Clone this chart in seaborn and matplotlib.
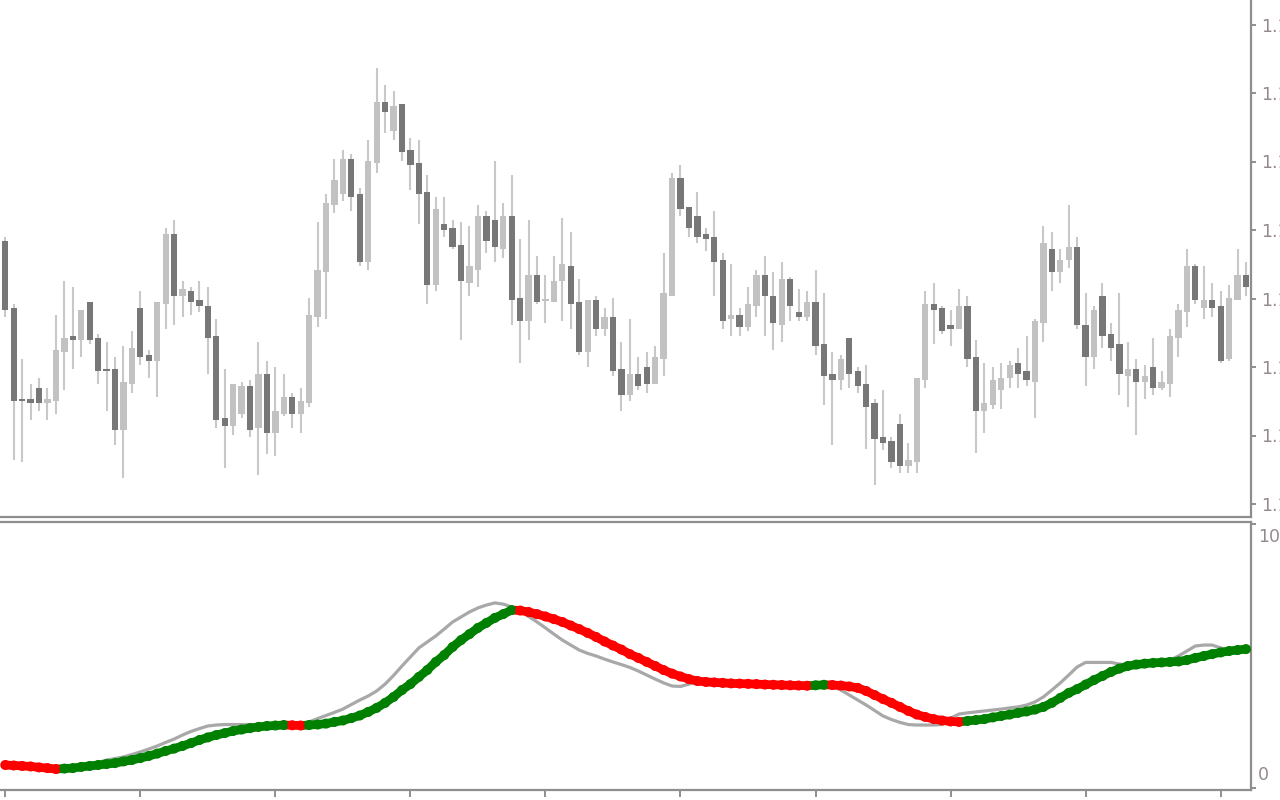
import numpy as np
import seaborn as sns
from matplotlib import pyplot as plt
from matplotlib.collections import LineCollection

# candle prices, in points above 1.1000 (68.5 points = 20 pips)
open_pts = [263, 196, 105, 105, 116, 101, 103, 152, 168, 164,
            202, 166, 135, 135, 74, 120, 196, 149, 143, 200,
            270, 208, 213, 204, 198, 168, 86, 78, 90, 118,
            76, 130, 71, 90, 107, 90, 101, 187, 232, 299,
            310, 345, 310, 242, 341, 402, 373, 400, 354, 341,
            312, 219, 280, 276, 259, 221, 234, 288, 284, 255,
            288, 206, 183, 229, 203, 202, 223, 238, 202, 152,
            204, 175, 187, 135, 109, 130, 137, 120, 145, 208,
            326, 297, 288, 270, 267, 244, 185, 189, 177, 198,
            229, 208, 179, 225, 192, 187, 202, 160, 130, 124,
            166, 133, 120, 101, 67, 63, 80, 38, 42, 124,
            200, 196, 179, 175, 198, 147, 93, 99, 114, 126,
            141, 133, 122, 181, 255, 232, 244, 257, 179, 147,
            208, 170, 160, 128, 135, 122, 137, 116, 120, 166,
            192, 238, 196, 204, 198, 145, 204, 229]
high_pts = [267, 200, 145, 120, 126, 116, 189, 223, 217, 194,
            202, 170, 162, 147, 158, 173, 213, 154, 202, 276,
            284, 223, 217, 223, 217, 185, 135, 120, 122, 124,
            162, 143, 137, 130, 111, 116, 206, 282, 310, 345,
            354, 350, 316, 364, 436, 419, 413, 400, 366, 364,
            329, 307, 307, 284, 282, 278, 299, 293, 343, 301,
            329, 265, 284, 248, 229, 248, 286, 272, 225, 204,
            208, 196, 206, 162, 185, 147, 152, 158, 251, 331,
            339, 297, 312, 276, 293, 251, 240, 196, 217, 234,
            248, 232, 242, 227, 215, 213, 234, 211, 152, 149,
            166, 137, 139, 105, 114, 67, 90, 61, 126, 213,
            221, 198, 194, 215, 208, 164, 141, 137, 141, 143,
            156, 168, 185, 278, 272, 255, 299, 267, 211, 198,
            221, 181, 211, 162, 145, 139, 166, 133, 175, 200,
            255, 240, 238, 221, 213, 219, 255, 242]
low_pts = [187, 44, 42, 84, 93, 84, 90, 114, 135, 147,
           160, 120, 93, 59, 26, 111, 139, 126, 107, 175,
           179, 187, 189, 192, 130, 76, 36, 69, 86, 67,
           29, 50, 48, 88, 76, 71, 97, 177, 185, 291,
           303, 293, 238, 234, 331, 371, 364, 343, 314, 280,
           200, 213, 267, 255, 164, 208, 217, 251, 242, 246,
           179, 141, 164, 200, 181, 202, 183, 175, 149, 137,
           168, 168, 128, 93, 103, 114, 111, 120, 128, 208,
           288, 267, 261, 253, 208, 175, 168, 168, 173, 187,
           168, 154, 162, 183, 183, 183, 149, 99, 59, 114,
           116, 111, 55, 19, 54, 36, 31, 31, 31, 116,
           160, 170, 158, 175, 137, 51, 71, 95, 95, 116,
           116, 118, 86, 162, 213, 221, 236, 175, 118, 135,
           156, 143, 109, 97, 69, 105, 109, 114, 107, 147,
           177, 200, 185, 187, 141, 143, 204, 208]
close_pts = [194, 103, 103, 101, 101, 105, 154, 166, 164, 194,
             164, 133, 133, 74, 122, 156, 147, 143, 202, 270,
             208, 215, 202, 198, 166, 84, 78, 120, 118, 74,
             130, 71, 93, 107, 90, 103, 189, 234, 301, 324,
             345, 307, 242, 343, 402, 392, 398, 352, 339, 310,
             219, 295, 274, 257, 223, 238, 288, 263, 257, 288,
             204, 183, 229, 202, 204, 223, 240, 200, 152, 204,
             175, 187, 133, 109, 130, 118, 120, 147, 211, 326,
             295, 276, 267, 265, 242, 183, 189, 177, 200, 229,
             208, 181, 225, 198, 187, 202, 158, 128, 124, 145,
             130, 118, 97, 65, 61, 42, 38, 44, 126, 200,
             194, 173, 175, 198, 145, 93, 101, 124, 126, 139,
             130, 124, 183, 261, 232, 244, 257, 179, 147, 194,
             168, 156, 130, 135, 122, 128, 116, 122, 168, 194,
             238, 204, 204, 196, 143, 206, 229, 217]

# oscillator window (0..100)
signal = [4.2, 4.0, 3.8, 3.6, 3.2, 2.9, 2.5, 2.7, 2.9, 3.4,
          3.8, 4.2, 4.6, 5.0, 5.7, 6.3, 7.1, 8.0, 9.0, 10.1,
          11.1, 12.2, 13.4, 14.7, 15.8, 16.8, 17.6, 18.5, 19.1, 19.7,
          20.2, 20.6, 20.8, 21.0, 20.9, 20.8, 21.0, 21.2, 21.6, 22.3,
          22.9, 23.9, 25.0, 26.5, 28.2, 30.3, 32.8, 35.7, 38.2, 41.2,
          44.1, 47.5, 50.4, 53.8, 56.7, 59.2, 61.8, 63.9, 66.0, 67.6,
          69.3, 69.1, 68.5, 67.6, 66.6, 65.5, 64.3, 62.8, 61.3, 59.7,
          58.0, 56.1, 54.4, 52.7, 50.8, 49.2, 47.5, 45.8, 44.1, 42.6,
          41.4, 40.3, 39.5, 39.1, 38.9, 38.7, 38.5, 38.4, 38.3, 38.2,
          38.0, 37.9, 37.8, 37.7, 37.6, 37.5, 37.7, 37.9, 37.8, 37.6,
          37.2, 36.6, 35.3, 33.6, 31.9, 30.3, 28.6, 26.9, 25.4, 24.4,
          23.5, 22.9, 22.5, 22.3, 22.7, 23.1, 23.5, 24.2, 24.8, 25.4,
          26.1, 26.7, 27.5, 28.6, 30.3, 32.4, 34.5, 36.1, 38.0, 39.9,
          41.6, 43.3, 44.7, 45.8, 46.4, 46.8, 47.1, 47.3, 47.5, 47.7,
          48.3, 49.2, 50.0, 50.8, 51.5, 52.1, 52.5, 52.9]
raw = [4.2, 3.8, 3.6, 3.2, 2.9, 2.7, 2.5, 2.9, 3.4, 3.8,
       4.4, 5.3, 6.3, 6.9, 7.6, 8.6, 9.7, 10.9, 12.2, 13.7,
       15.1, 16.8, 18.3, 19.5, 20.6, 21.0, 21.2, 21.2, 21.2, 21.2,
       21.2, 21.2, 21.0, 20.8, 20.8, 21.4, 22.3, 23.7, 25.0, 26.3,
       27.7, 29.6, 31.5, 33.2, 35.3, 38.2, 41.8, 45.8, 49.6, 53.4,
       55.9, 58.4, 61.3, 64.3, 66.4, 68.5, 70.2, 71.4, 72.3, 71.8,
       70.6, 68.9, 66.6, 64.3, 61.8, 59.2, 56.7, 54.6, 52.5, 51.1,
       50.0, 48.7, 47.5, 46.4, 45.2, 43.7, 42.0, 40.3, 38.7, 37.4,
       37.2, 38.2, 39.1, 39.1, 38.9, 38.7, 38.4, 38.4, 38.2, 38.2,
       38.0, 38.0, 38.0, 37.8, 37.8, 37.8, 37.8, 37.8, 37.4, 35.7,
       33.6, 31.5, 29.4, 27.1, 24.8, 23.3, 22.1, 21.2, 21.0, 21.0,
       21.0, 21.2, 23.9, 25.6, 26.1, 26.5, 26.9, 27.3, 27.7, 28.2,
       28.6, 29.4, 30.7, 32.8, 35.7, 38.7, 42.0, 45.4, 47.3, 47.3,
       47.3, 47.3, 46.6, 46.2, 46.4, 46.8, 47.1, 47.5, 48.3, 50.0,
       52.1, 54.2, 54.6, 54.6, 53.4, 52.5, 52.5, 52.5]

price_ticks = [1.1000, 1.1020, 1.1040, 1.1060, 1.1080, 1.1100, 1.1120, 1.1140]
price_labels = ['1.1000', '1.1020', '1.1040', '1.1060', '1.1080', '1.1100', '1.1120', '1.1140']
time_labels = ['17 Feb 2021', '19 Feb 20:00', '24 Feb 04:00', '26 Feb 12:00', '2 Mar 20:00',
               '5 Mar 04:00', '9 Mar 12:00', '11 Mar 20:00', '16 Mar 04:00', '18 Mar 12:00']

BASE = 1.1000
PT = 0.0020 / 68.5
LIGHT, DARK, WICK = '#c2c2c2', '#777777', '#c8c8c8'
AXC = '#8e8e8e'
TXT = '#948a8c'

sns.set_style('white')
plt.rcParams['font.family'] = ['DejaVu Sans']

o = BASE + np.array(open_pts) * PT
h = BASE + np.array(high_pts) * PT
l = BASE + np.array(low_pts) * PT
c = BASE + np.array(close_pts) * PT
bars = np.arange(len(o))
up = c >= o

W, H = 1280, 800
fig = plt.figure(figsize=(12.8, 8), dpi=100)
ax1 = fig.add_axes([0, 1 - 517 / H, 1251 / W, 517 / H])
ax2 = fig.add_axes([0, 1 - 790 / H, 1251 / W, (790 - 522) / H])

# candles
ax1.vlines(bars, l, h, color=WICK, lw=1.5, zorder=1)
body_lo = np.minimum(o, c)
body_h = np.maximum(np.abs(c - o), 1.5 * PT)
ax1.bar(bars, body_h, bottom=body_lo, width=0.74,
        color=np.where(up, LIGHT, DARK), linewidth=0, zorder=2)

xlim = (-5.3 / 8.44, (1251 - 5.3) / 8.44)
ax1.set_xlim(*xlim)
ax1.set_ylim(BASE - 13 * PT, BASE + 504 * PT)
ax1.yaxis.tick_right()
ax1.set_yticks(price_ticks)
ax1.set_yticklabels(price_labels)
ax1.tick_params(axis='y', right=True, length=3.6, width=1.4, color=AXC,
                labelcolor=TXT, labelsize=12.5, pad=3.6)
ax1.set_xticks([])

# oscillator
sns.lineplot(x=bars, y=raw, ax=ax2, color='#a8a8a8', lw=2.3, zorder=2)
sig = np.array(signal)
rising = np.r_[False, np.diff(sig) > 0]
seg_cols = np.where(rising, '#008000', '#ff0000')
pts = np.column_stack([bars, sig])
segs = np.stack([pts[:-1], pts[1:]], axis=1)
ax2.add_collection(LineCollection(segs, colors=seg_cols[1:], linewidths=6.3,
                                  capstyle='round', zorder=3))
sns.scatterplot(x=bars, y=sig, hue=np.where(rising, 'up', 'down'),
                palette={'up': '#008000', 'down': '#ff0000'},
                s=52, linewidth=0, legend=False, ax=ax2, zorder=4)

ax2.set_xlim(*xlim)
ax2.set_ylim(-6.3, 106.3)
ax2.yaxis.tick_right()
ax2.set_yticks([-5.4, 105.6])
ax2.set_yticklabels(['', ''])
ax2.tick_params(axis='y', right=True, length=3.6, width=1.4, color=AXC)
ytr = ax2.get_yaxis_transform()
for val, txt in [(100, '100'), (0, '0')]:
    ax2.text(1 + 7 / 1251, val, txt, transform=ytr, ha='left', va='center',
             color=TXT, fontsize=12.5)

ax2.set_xticks(bars[::16])
ax2.set_xticklabels(time_labels, ha='left')
ax2.tick_params(axis='x', bottom=True, length=5, width=1.4, color=AXC,
                labelcolor=TXT, labelsize=12.5, pad=5)
ax2.set_xlabel('')
ax2.set_ylabel('')

for ax in (ax1, ax2):
    for side in ('left', 'top', 'right', 'bottom'):
        ax.spines[side].set_color(AXC)
        ax.spines[side].set_linewidth(1.6)
    ax.spines['left'].set_visible(False)
    ax.set_facecolor('white')
ax1.spines['top'].set_visible(False)

fig.savefig('out.png', dpi=100, facecolor='white')
